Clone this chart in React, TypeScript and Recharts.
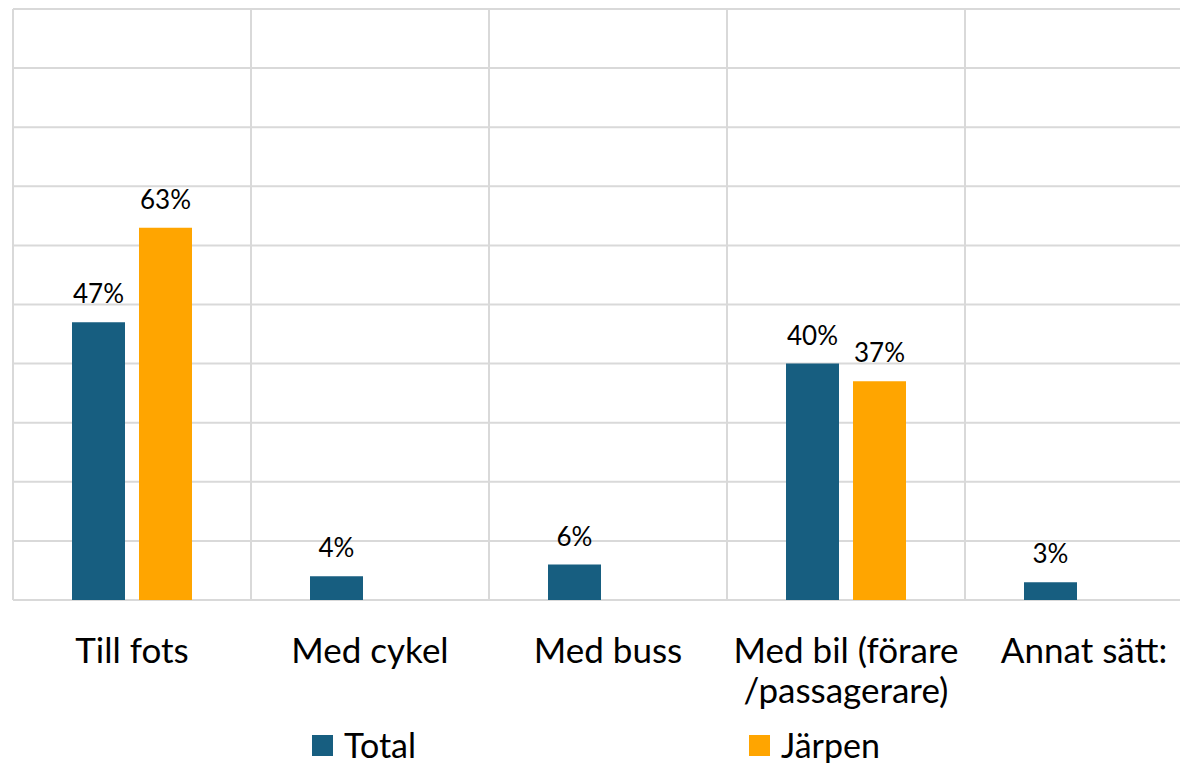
import { Bar, BarChart, CartesianGrid, LabelList, Legend, XAxis, YAxis } from "recharts";

const categories = ["Till fots", "Med cykel", "Med buss", "Med bil (förare /passagerare)", "Annat sätt:"];
const totalValues = [47, 4, 6, 40, 3];
const jarpenValues = [63, 0, 0, 37, 0];
const yTicks = [0, 10, 20, 30, 40, 50, 60, 70, 80, 90, 100];

const TOTAL_COLOR = "#175E80";
const JARPEN_COLOR = "#FFA500";
const FONT = "Lato, 'Noto Sans', sans-serif";

const chartData = categories.map((name, i) => ({
  name,
  total: totalValues[i],
  jarpen: jarpenValues[i],
}));

function CategoryTick({ x, y, payload }: any) {
  const label: string = payload.value;
  const idx = label.indexOf(" /");
  const lines = idx >= 0 ? [label.slice(0, idx), label.slice(idx + 1)] : [label];
  return (
    <text x={x} y={y} textAnchor="middle" fill="#000" fontSize={35} fontFamily={FONT}>
      {lines.map((line, i) => (
        <tspan key={line} x={x} y={y + 63 + i * 40}>
          {line}
        </tspan>
      ))}
    </text>
  );
}

function ValueLabel({ x, y, width, value }: any) {
  if (!value) return null;
  return (
    <text
      x={x + width / 2}
      y={y - 19}
      textAnchor="middle"
      fill="#000"
      fontSize={26}
      fontFamily={FONT}
    >
      {`${value}%`}
    </text>
  );
}

function ChartLegend() {
  const items = [
    { label: "Total", color: TOTAL_COLOR },
    { label: "Järpen", color: JARPEN_COLOR },
  ];
  return (
    <div style={{ display: "flex", paddingLeft: 304, fontFamily: FONT, fontSize: 34, height: 32 }}>
      {items.map((item) => (
        <div key={item.label} style={{ width: 437, display: "flex", alignItems: "center" }}>
          <span
            style={{ width: 21, height: 21, background: item.color, display: "inline-block", marginRight: 11 }}
          />
          <span style={{ lineHeight: "32px" }}>{item.label}</span>
        </div>
      ))}
    </div>
  );
}

export default function App() {
  return (
    <div style={{ width: 1180, height: 755, overflow: "hidden", position: "relative" }}>
      <BarChart
        width={1200}
        height={755}
        data={chartData}
        margin={{ top: 1, right: 5, bottom: 0, left: 5 }}
        barSize={53}
        barGap={14}
      >
        <CartesianGrid
          stroke="#d9d9d9"
          strokeWidth={2}
          verticalCoordinatesGenerator={({ offset }: any) =>
            categories.map((_, i) => offset.left + (i * offset.width) / categories.length)
          }
        />
        <XAxis
          dataKey="name"
          axisLine={false}
          tickLine={false}
          tickSize={0}
          tickMargin={0}
          interval={0}
          height={131}
          tick={<CategoryTick />}
        />
        <YAxis hide domain={[0, 100]} ticks={yTicks} />
        <Legend
          verticalAlign="bottom"
          content={<ChartLegend />}
          wrapperStyle={{ left: 0, top: 721, bottom: "auto", width: 1180, height: 32 }}
        />
        <Bar dataKey="total" name="Total" fill={TOTAL_COLOR} isAnimationActive={false}>
          <LabelList dataKey="total" content={<ValueLabel />} />
        </Bar>
        <Bar dataKey="jarpen" name="Järpen" fill={JARPEN_COLOR} isAnimationActive={false}>
          <LabelList dataKey="jarpen" content={<ValueLabel />} />
        </Bar>
      </BarChart>
    </div>
  );
}
